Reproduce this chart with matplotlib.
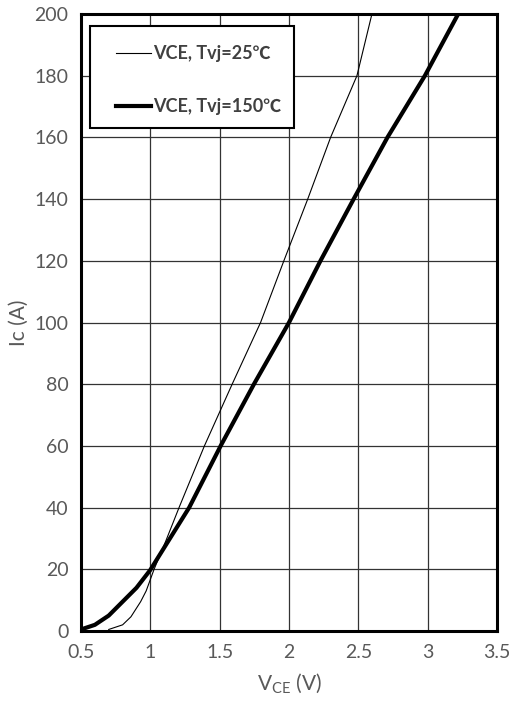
import matplotlib
matplotlib.use("Agg")
import matplotlib.pyplot as plt
from matplotlib.patches import Rectangle

# 25 °C curve (thin)
vce_25 = [0.70, 0.80, 0.86, 0.93, 0.97, 1.027, 1.11, 1.207, 1.39, 1.59, 1.795, 1.963, 2.135, 2.30, 2.49, 2.598]
ic_25 = [0.5, 2.0, 4.6, 9.5, 13.0, 20.0, 29.0, 40.0, 60.0, 80.0, 100.0, 120.0, 140.0, 160.0, 180.0, 200.0]

# 150 °C curve (thick)
vce_150 = [0.50, 0.60, 0.70, 0.80, 0.90, 1.00, 1.09, 1.28, 1.507, 1.747, 2.00, 2.227, 2.466, 2.71, 2.98, 3.22]
ic_150 = [0.5, 2.0, 5.0, 9.5, 14.0, 19.8, 26.3, 40.0, 60.0, 80.0, 100.0, 120.0, 140.0, 160.0, 180.0, 200.0]

labels = ["VCE, Tvj=25\u2103", "VCE, Tvj=150\u2103"]
x_ticks = [0.5, 1, 1.5, 2, 2.5, 3, 3.5]
x_ticklabels = ["0.5", "1", "1.5", "2", "2.5", "3", "3.5"]
y_ticks = list(range(0, 201, 20))

plt.rcParams['font.family'] = ['Lato', 'Noto Sans CJK SC', 'DejaVu Sans']

fig = plt.figure(figsize=(5.10, 7.18), dpi=100)
W, H = 510, 718
left, right, top, bottom = 81, 497, 14, 631
ax = fig.add_axes([left / W, 1 - bottom / H, (right - left) / W, (bottom - top) / H])

ax.plot(vce_25, ic_25, color="black", lw=0.8, label=labels[0], zorder=3)
ax.plot(vce_150, ic_150, color="black", lw=3.0, label=labels[1], zorder=3)

ax.set_xlim(0.5, 3.5)
ax.set_ylim(0, 200)
ax.set_xticks(x_ticks)
ax.set_xticklabels(x_ticklabels)
ax.set_yticks(y_ticks)
ax.grid(True, color="#333333", lw=0.9)
ax.set_axisbelow(True)
for s in ax.spines.values():
    s.set_linewidth(2.2)
    s.set_color("black")
ax.tick_params(length=0, labelsize=14, labelcolor="#595959", pad=9)

ax.set_xlabel("V$_{\\mathregular{CE}}$ (V)", fontsize=15, color="#595959", labelpad=8)
ax.set_ylabel("Ic (A)", fontsize=15, color="#595959", labelpad=4)

# legend frame
ax.add_patch(Rectangle((0.0216, 0.8152), 0.4904, 0.1654, transform=ax.transAxes,
                       facecolor="white", edgecolor="black", lw=1.5, zorder=5))

leg = ax.legend(loc="upper left", bbox_to_anchor=(0.0841, 0.9500), borderaxespad=0,
                frameon=False, handlelength=1.95,
                handletextpad=0.12, labelspacing=2.0, borderpad=0,
                prop={'size': 13, 'weight': 'bold'})
leg.set_zorder(6)
for t in leg.get_texts():
    t.set_color("#404040")

fig.savefig("out.png", dpi=100)
